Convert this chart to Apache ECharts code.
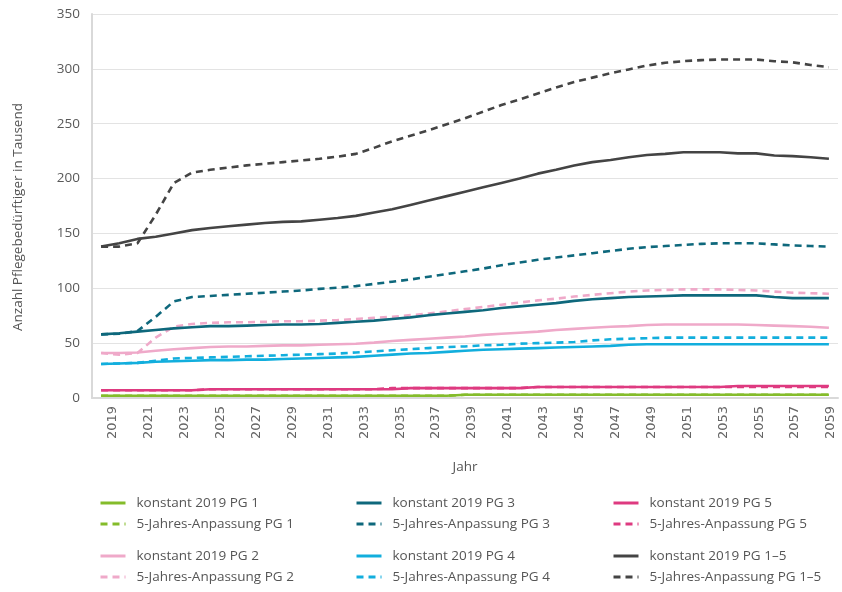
<!DOCTYPE html>
<html>
<head>
<meta charset="utf-8">
<script src="https://cdn.jsdelivr.net/npm/echarts@6/dist/echarts.min.js"></script>
<style>
html,body{margin:0;padding:0;background:#fff;}
#chart{width:842px;height:592px;}
</style>
</head>
<body>
<div id="chart"></div>
<script>
const years = [];
for (let y = 2019; y <= 2059; y++) years.push(String(y));

const pg1Konstant = [2,2,2,2,2,2,2,2,2,2,2,2,2,2,2,2,2,2,2,2,3,3,3,3,3,3,3,3,3,3,3,3,3,3,3,3,3,3,3,3,3];
const pg1Anpassung = [2,2,2,2,2,2,2,2,2,2,2,2,2,2,2,2,2,2,2,2,3,3,3,3,3,3,3,3,3,3,3,3,3,3,3,3,3,3,3,3,3];
const pg2Konstant = [41,41,41.5,43,44.5,45.5,46.5,47,47,47.5,48,48,48.5,49,49.5,50.5,52,53,54,55,56,57.5,58.5,59.5,60.5,62,63,64,65,65.5,66.5,67,67,67,67,67,66.5,66,65.5,65,64];
const pg2Anpassung = [41,39.5,41,55,65,67.5,68.5,69,69,69.5,70,70,70.5,71,72,73,74,75.5,77,79,81,83,85,87,89,90.5,92.5,94,95.5,97,98,98.5,99,99,99,98.5,98,97,96,95.5,95];
const pg3Konstant = [58,59,60.5,62,63.5,64.5,65.5,65.5,66,66.5,67,67,67.5,68.5,69.5,70.5,72,73.5,75.5,77,78.5,80,82,83.5,85,86.5,88.5,90,91,92,92.5,93,93.5,93.5,93.5,93.5,93.5,92,91,91,91];
const pg3Anpassung = [58,58.5,61,74,88,92,93,94,95,96,97,98,99.5,100.5,102,104,106,108,110.5,113,115.5,118,121,123.5,126,128,130,132,134,136,137.5,138.5,139.5,140.5,141,141,141,140,139,138.5,138];
const pg4Konstant = [31,31.5,32,33,33.5,34,34.5,34.5,35,35,35.5,36,36.5,37,37.5,38.5,39.5,40.5,41,42,43,44,44.5,45,45.5,46,46.5,47,47.5,48.5,49,49,49,49,49,49,49,49,49,49,49];
const pg4Anpassung = [31,31.5,32,34,36,36.5,37,37.5,38,38.5,39,39.5,40,40.5,41.5,42.5,43.5,44.5,45.5,46.5,47,48,48.5,49.5,50,50.5,51,52.5,53.5,54,54.5,55,55,55,55,55,55,55,55,55,55];
const pg5Konstant = [7,7,7,7,7,7,8,8,8,8,8,8,8,8,8,8,8,9,9,9,9,9,9,9,10,10,10,10,10,10,10,10,10,10,10,11,11,11,11,11,11];
const pg5Anpassung = [7,7,7,7,7,7,8,8,8,8,8,8,8,8,8,8,9,9,9,9,9,9,9,9,10,10,10,10,10,10,10,10,10,10,10,10,10,10,10,10,10];
const pgAllKonstant = [138,141,145,147,150,153,155,156.5,158,159.5,160.5,161,162.5,164,166,169,172,176,180,184,188,192,196,200,204.5,208,212,215,217,219.5,221.5,222.5,224,224,224,223,223,221,220.5,219.5,218];
const pgAllAnpassung = [138,138,141,167,196,205.5,208,210,212,213.5,215,216.5,218,220,222.5,228,234,239,244,249.5,255,261,267,272,277.5,283,288,292,296,299.5,303,305.5,307,308,308.5,308.5,308.5,307,306,303.5,301.5];

const yTicks = [0,50,100,150,200,250,300,350];

const names = {
  k1:'konstant 2019 PG 1', a1:'5-Jahres-Anpassung PG 1',
  k2:'konstant 2019 PG 2', a2:'5-Jahres-Anpassung PG 2',
  k3:'konstant 2019 PG 3', a3:'5-Jahres-Anpassung PG 3',
  k4:'konstant 2019 PG 4', a4:'5-Jahres-Anpassung PG 4',
  k5:'konstant 2019 PG 5', a5:'5-Jahres-Anpassung PG 5',
  kA:'konstant 2019 PG 1–5', aA:'5-Jahres-Anpassung PG 1–5'
};
const colors = {g:'#84BC2A', p:'#EFA9C9', t:'#0E687C', c:'#12AEDD', m:'#DE3A80', d:'#444444'};

function ser(name, data, color, dashed){
  return {
    name:name, type:'line', data:data, symbol:'none', smooth:false,
    xAxisIndex:0, yAxisIndex:0,
    lineStyle:{color:color, width:2.6, type: dashed ? [7,5] : 'solid'},
    itemStyle:{color:color},
    emphasis:{disabled:true}
  };
}
const series = [
  ser(names.k1, pg1Konstant, colors.g, false),
  ser(names.a1, pg1Anpassung, colors.g, true),
  ser(names.k2, pg2Konstant, colors.p, false),
  ser(names.a2, pg2Anpassung, colors.p, true),
  ser(names.k3, pg3Konstant, colors.t, false),
  ser(names.a3, pg3Anpassung, colors.t, true),
  ser(names.k4, pg4Konstant, colors.c, false),
  ser(names.a4, pg4Anpassung, colors.c, true),
  ser(names.k5, pg5Konstant, colors.m, false),
  ser(names.a5, pg5Anpassung, colors.m, true),
  ser(names.kA, pgAllKonstant, colors.d, false),
  ser(names.aA, pgAllAnpassung, colors.d, true)
];

const legendFont = {color:'#555', fontSize:13.5, lineHeight:13, fontFamily:'Open Sans', padding:[0,0,0,6]};
function leg(left, top, data){
  return {left:left, top:top, height:60, padding:0, orient:'vertical', itemWidth:25, itemHeight:13, itemGap:7,
    selectedMode:false, textStyle:legendFont,
    itemStyle:{opacity:0, borderWidth:0},
    lineStyle:{width:3},
    data:data};
}

const chart = echarts.init(document.getElementById('chart'), null, {renderer:'canvas'});
chart.setOption({
  animation:false,
  backgroundColor:'#fff',
  grid:[
    {left:92, right:4, top:14, bottom:194, containLabel:false},
    {left:113, right:11, top:14, bottom:194, containLabel:false}
  ],
  xAxis:[{
    type:'category', data:years, boundaryGap:true, gridIndex:0,
    axisLine:{show:true, lineStyle:{color:'#d9d9d9', width:2}},
    axisTick:{show:false},
    axisLabel:{show:false},
    name:'Jahr', nameLocation:'middle', nameGap:62,
    nameTextStyle:{color:'#555', fontSize:13.5, fontFamily:'Open Sans'}
  },{
    type:'category', data:years, boundaryGap:false, gridIndex:1,
    axisLine:{show:false}, axisTick:{show:false}, splitLine:{show:false},
    axisLabel:{interval:1, rotate:90, color:'#666', fontSize:13, fontFamily:'DejaVu Sans', margin:8}
  }],
  yAxis:[{
    type:'value', min:0, max:350, interval:50, gridIndex:0,
    axisLine:{show:true, lineStyle:{color:'#d9d9d9', width:2}},
    axisTick:{show:false},
    axisLabel:{color:'#595959', fontSize:13.5, fontFamily:'Open Sans', margin:12},
    splitLine:{show:true, lineStyle:{color:'#e3e3e3', width:1}}
  },{
    type:'value', min:0, max:350, gridIndex:1, show:false
  }],
  legend:[
    leg(99, 496, [names.k1, names.a1]),
    leg(99, 549, [names.k2, names.a2]),
    leg(355, 496, [names.k3, names.a3]),
    leg(355, 549, [names.k4, names.a4]),
    leg(612, 496, [names.k5, names.a5]),
    leg(612, 549, [names.kA, names.aA])
  ],
  graphic:[{
    type:'text', x:18, y:217, rotation:Math.PI/2,
    style:{text:'Anzahl Pflegebedürftiger in Tausend', fill:'#555', fontSize:13.5, fontFamily:'Open Sans', align:'center', verticalAlign:'middle'}
  }],
  series:series
});
</script>
</body>
</html>
